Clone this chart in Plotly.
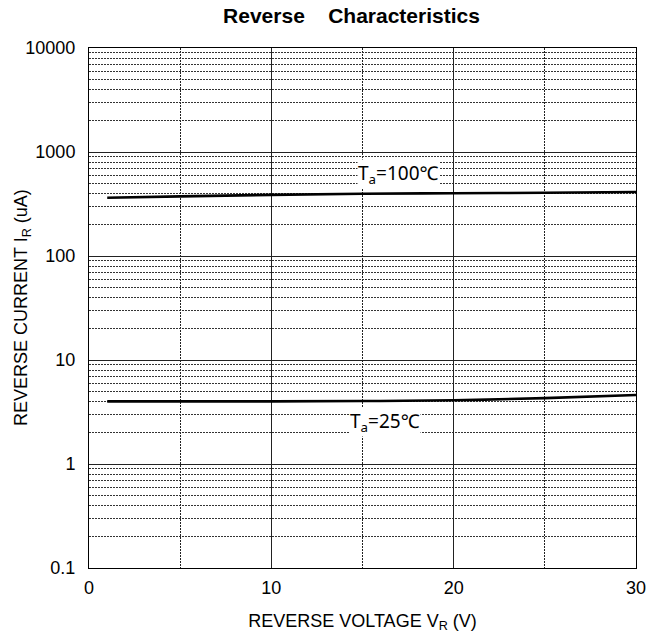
import plotly.graph_objects as go

voltage = [1, 5, 10, 15, 20, 25, 30]
current_100c = [363, 374, 387, 397, 401, 405, 412]
current_25c = [4.0, 4.0, 4.0, 4.03, 4.1, 4.3, 4.6]

x_ticks = [0, 10, 20, 30]
y_ticks = [0.1, 1, 10, 100, 1000, 10000]
y_tick_labels = ["0.1", "1", "10", "100", "1000", "10000"]

W, H = 651, 629
ML, MR, MT, MB = 81, 23, 40, 69
PW = W - ML - MR

fig = go.Figure()
for ys in (current_100c, current_25c):
    fig.add_trace(go.Scatter(x=voltage, y=ys, mode="lines",
                             line=dict(color="black", width=2.6, shape="spline"),
                             showlegend=False, hoverinfo="skip"))

ann_font = dict(family="Noto Sans, Open Sans, sans-serif", size=19, color="black")
fig.add_annotation(x=14.7, y=2.79, yref="y", xanchor="left", yanchor="middle",
                   text="T<sub>a</sub>=100℃", showarrow=False,
                   font=ann_font, bgcolor="white", borderpad=0)
fig.add_annotation(x=14.26, y=0.40, yref="y", xanchor="left", yanchor="middle",
                   text="T<sub>a</sub>=25℃", showarrow=False,
                   font=ann_font, bgcolor="white", borderpad=0)

tick_font = dict(family="Liberation Sans, Arial, sans-serif", size=18, color="black")
title_font = dict(family="Liberation Sans, Arial, sans-serif", size=18, color="black")

fig.add_annotation(xref="paper", yref="paper", x=(14 - ML) / PW, y=0.5,
                   xanchor="center", yanchor="middle", textangle=-90,
                   text="REVERSE CURRENT I<sub>R</sub> (uA)", showarrow=False,
                   font=title_font)

fig.update_layout(
    width=W, height=H,
    margin=dict(l=ML, r=MR, t=MT, b=MB, autoexpand=False),
    paper_bgcolor="white", plot_bgcolor="white",
    title=dict(text="<b>Reverse    Characteristics</b>", xref="container", x=(351.5 - 8) / W,
               xanchor="center", yref="container", y=1, yanchor="top",
               font=dict(family="Liberation Sans, Arial, sans-serif", size=21, color="black")),
    font=tick_font,
)
dot = "2px,1px"
fig.update_xaxes(
    range=[0, 30], tickvals=x_ticks, ticks="outside", ticklen=3,
    tickcolor="rgba(0,0,0,0)", showline=True, linecolor="black", automargin=False,
    linewidth=1, mirror=True, showgrid=True, gridcolor="#222", gridwidth=1,
    zeroline=False, tickfont=tick_font,
    minor=dict(dtick=5, showgrid=True, gridcolor="#222", griddash=dot, gridwidth=1),
    title=dict(text="REVERSE VOLTAGE V<sub>R</sub> (V)", font=title_font, standoff=17),
)
fig.update_yaxes(
    type="log", range=[-1, 4], tickvals=y_ticks, ticktext=y_tick_labels,
    ticks="outside", ticklen=9, tickcolor="rgba(0,0,0,0)", automargin=False,
    showline=True, linecolor="black", linewidth=1, mirror=True,
    showgrid=True, gridcolor="#222", gridwidth=1, zeroline=False, tickfont=tick_font,
    minor=dict(dtick="D1", showgrid=True, gridcolor="#333", griddash=dot, gridwidth=1),
)

fig.write_html("out.html")
